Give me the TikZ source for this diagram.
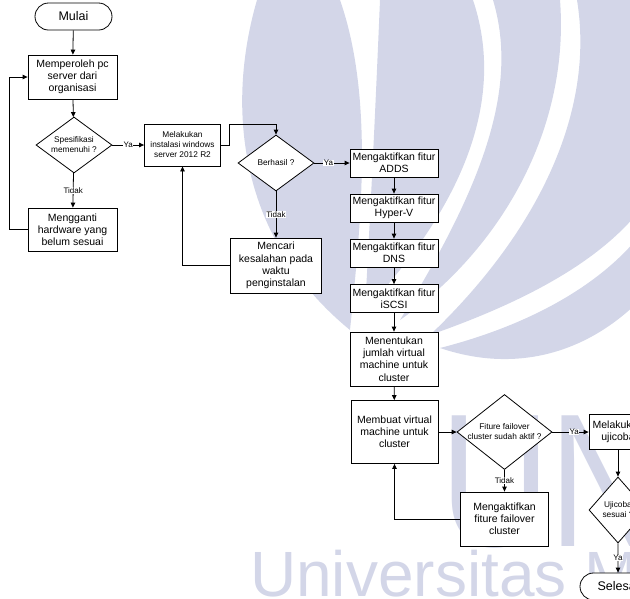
\documentclass[tikz,border=0pt]{standalone}
\usepackage{fontspec}
\setmainfont{Liberation Sans}
\usetikzlibrary{shapes,arrows.meta}
\definecolor{wmark}{RGB}{211,214,232}

\begin{document}
\begin{tikzpicture}[x=1pt,y=-1pt,
	>={Triangle[length=5pt,width=4.5pt]},
	box/.style={draw,fill=white,line width=0.8pt,align=center,inner sep=1pt,font=\fontsize{10.5}{12.2}\selectfont},
	smallbox/.style={box,font=\fontsize{8.3}{10}\selectfont},
	decision/.style={draw,fill=white,diamond,line width=0.8pt,align=center,inner sep=0pt,font=\fontsize{8.3}{10}\selectfont},
	terminal/.style={draw,fill=white,rounded rectangle,line width=0.8pt,inner sep=0pt,minimum width=77pt,minimum height=27pt,font=\fontsize{12.5}{14}\selectfont},
	lbl/.style={fill=white,inner sep=0.6pt,font=\fontsize{8}{9}\selectfont},
	line/.style={line width=0.8pt,->}]
	\useasboundingbox (0,0) rectangle (630,598);
	\clip (0,0) rectangle (630,598);
	
	% watermark
	\fill[wmark] (257,0) .. controls (225,110) and (240,240) .. (350,330) .. controls (360,230) and (375,100) .. (340,0) -- cycle;
	\fill[wmark] (380,0) .. controls (375,120) and (370,220) .. (365,310) .. controls (450,220) and (510,110) .. (473,0) -- cycle;
	\fill[wmark] (493,0) .. controls (520,90) and (480,190) .. (400,320) .. controls (500,250) and (570,130) .. (560,0) -- cycle;
	\fill[wmark] (577,0) .. controls (595,110) and (540,230) .. (430,335) .. controls (530,300) and (600,260) .. (640,210) -- (640,0) -- cycle;
	\fill[wmark] (440,348) .. controls (530,325) and (600,285) .. (640,235) -- (640,300) .. controls (590,350) and (520,375) .. (440,348) -- cycle;
	\node[anchor=base west,text=wmark,inner sep=0pt,xscale=0.8,font=\fontsize{190}{190}\selectfont] (logo) at (440,546) {UN};
	\node[anchor=base west,text=wmark,inner sep=0pt,font=\fontsize{64}{64}\selectfont] (univ) at (250,596) {Universitas M};
	
	% left column
	\node[terminal] (mulai) at (73.5,16.5) {Mulai};
	\node[box,minimum width=89pt,minimum height=44pt] (pc) at (72.5,77) {Memperoleh pc\\server dari\\organisasi};
	\node[decision,minimum width=76pt,minimum height=56pt,aspect=1.36] (spek) at (74,145) {Spesifikasi\\memenuhi ?};
	\node[box,minimum width=89pt,minimum height=43pt] (ganti) at (72.5,229.5) {Mengganti\\hardware yang\\belum sesuai};
	
	% instalasi
	\node[smallbox,minimum width=76pt,minimum height=42pt] (instal) at (182.5,145) {Melakukan\\instalasi windows\\server 2012 R2};
	\node[decision,minimum width=76pt,minimum height=56pt,aspect=1.36] (hasil) at (276,163) {Berhasil ?};
	\node[box,minimum width=91pt,minimum height=55pt] (cari) at (276,265.5) {Mencari\\kesalahan pada\\waktu\\penginstalan};
	
	% fitur
	\node[box,minimum width=88pt,minimum height=28pt] (adds) at (394,163) {Mengaktifkan fitur\\ADDS};
	\node[box,minimum width=88pt,minimum height=28pt] (hyperv) at (394,208) {Mengaktifkan fitur\\Hyper-V};
	\node[box,minimum width=88pt,minimum height=28pt] (dns) at (394,253) {Mengaktifkan fitur\\DNS};
	\node[box,minimum width=88pt,minimum height=28pt] (iscsi) at (394,298.5) {Mengaktifkan fitur\\iSCSI};
	\node[box,minimum width=88pt,minimum height=54pt] (jumlah) at (394,359) {Menentukan\\jumlah virtual\\machine untuk\\cluster};
	\node[box,minimum width=87pt,minimum height=63pt] (vm) at (394.5,432) {Membuat virtual\\machine untuk\\cluster};
	
	% failover
	\node[decision,minimum width=95pt,minimum height=75pt,aspect=1.27,inner xsep=-4pt] (failover) at (504.5,432) {Fiture failover\\cluster sudah aktif ?};
	\node[box,minimum width=88pt,minimum height=54pt] (aktif) at (504.5,519) {Mengaktifkan\\fiture failover\\cluster};
	\node[box,minimum width=58pt,minimum height=35pt] (uji) at (618,432) {Melakukan\\ujicoba};
	\node[decision,minimum width=58pt,minimum height=66pt,aspect=0.88] (sesuai) at (618,510) {Ujicoba\\sesuai ?};
	\node[terminal,minimum width=76pt] (selesai) at (618,586.5) {Selesai};
	
	% connectors
	\draw[line] (mulai) -- (pc);
	\draw[line] (pc) -- (spek);
	\draw[line] (spek) -- node[lbl]{Ya} (instal);
	\draw[line] (spek) -- node[lbl]{Tidak} (ganti);
	\draw[line] (ganti.west) -- ++(-18,0) |- (pc.west);
	\draw[line] (instal.east) -- ++(8,0) |- ([yshift=10pt]hasil.north) -- (hasil.north);
	\draw[line] (hasil) -- node[lbl,pos=0.4]{Ya} (adds);
	\draw[line] (hasil) -- node[lbl]{Tidak} (cari);
	\draw[line] (cari.west) -| (instal.south);
	\foreach \a/\b in {adds/hyperv,hyperv/dns,dns/iscsi,iscsi/jumlah,jumlah/vm}
		\draw[line] (\a) -- (\b);
	\draw[line] (vm) -- (failover);
	\draw[line] (failover) -- node[lbl,pos=0.6]{Ya} (uji);
	\draw[line] (failover) -- node[lbl]{Tidak} (aktif);
	\draw[line] (aktif.west) -| (vm.south);
	\draw[line] (uji) -- (sesuai);
	\draw[line] (sesuai) -- node[lbl]{Ya} (selesai);
\end{tikzpicture}
\end{document}
